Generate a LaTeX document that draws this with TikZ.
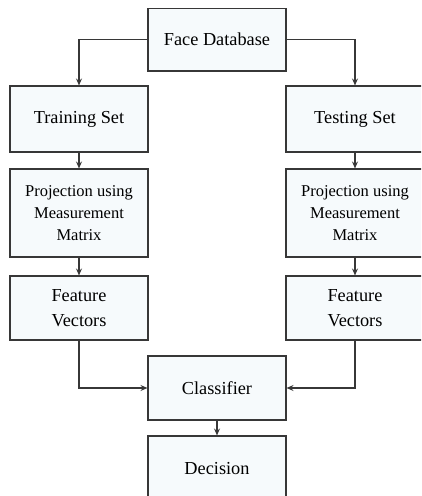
\documentclass[tikz,border=0pt]{standalone}
\usepackage{fontspec}
\setmainfont{Liberation Serif}
\usepackage{tikz}
\usetikzlibrary{arrows.meta}
\definecolor{boxfill}{RGB}{246,250,252}
\definecolor{linec}{RGB}{55,55,55}

\begin{document}
\begin{tikzpicture}[x=1pt,y=1pt,
    blk/.style={draw=linec, line width=1.1pt, fill=boxfill, minimum width=138pt, inner sep=0pt, align=center, font=\fontsize{18.3}{24.5}\selectfont},
    smallblk/.style={blk, font=\fontsize{16.5}{22}\selectfont},
    conn/.style={draw=linec, line width=1.1pt, -{Stealth[length=7pt,width=6pt,inset=2.5pt]}}]
                      \useasboundingbox (0,0) rectangle (421,496);
                      \clip (0,0) rectangle (421,487.6);
                      \node [blk, minimum height=63pt] (face) at (217,456.5) {Face Database};
                      \node [blk, minimum height=66pt] (train) at (79,377) {Training Set};
                      \node [blk, minimum height=66pt] (test) at (355,377) {Testing Set};
                      \node [smallblk, minimum height=88pt] (projL) at (79,283) {Projection using\\Measurement\\Matrix};
                      \node [smallblk, minimum height=88pt] (projR) at (355,283) {Projection using\\Measurement\\Matrix};
                      \node [blk, minimum height=64pt] (featL) at (79,188) {Feature\\Vectors};
                      \node [blk, minimum height=64pt] (featR) at (355,188) {Feature\\Vectors};
                      \node [blk, minimum height=64pt] (class) at (217,108) {Classifier};
                      \node [blk, minimum height=66pt] (dec) at (217,27) {Decision};
                      \draw [conn] (face.west) -| (train.north);
                      \draw [conn] (face.east) -| (test.north);
                      \draw [conn] (train) -- (projL);
                      \draw [conn] (test) -- (projR);
                      \draw [conn] (projL) -- (featL);
                      \draw [conn] (projR) -- (featR);
                      \draw [conn] (featL.south) |- (class.west);
                      \draw [conn] (featR.south) |- (class.east);
                      \draw [conn] (class) -- (dec);
\end{tikzpicture}
\end{document}
